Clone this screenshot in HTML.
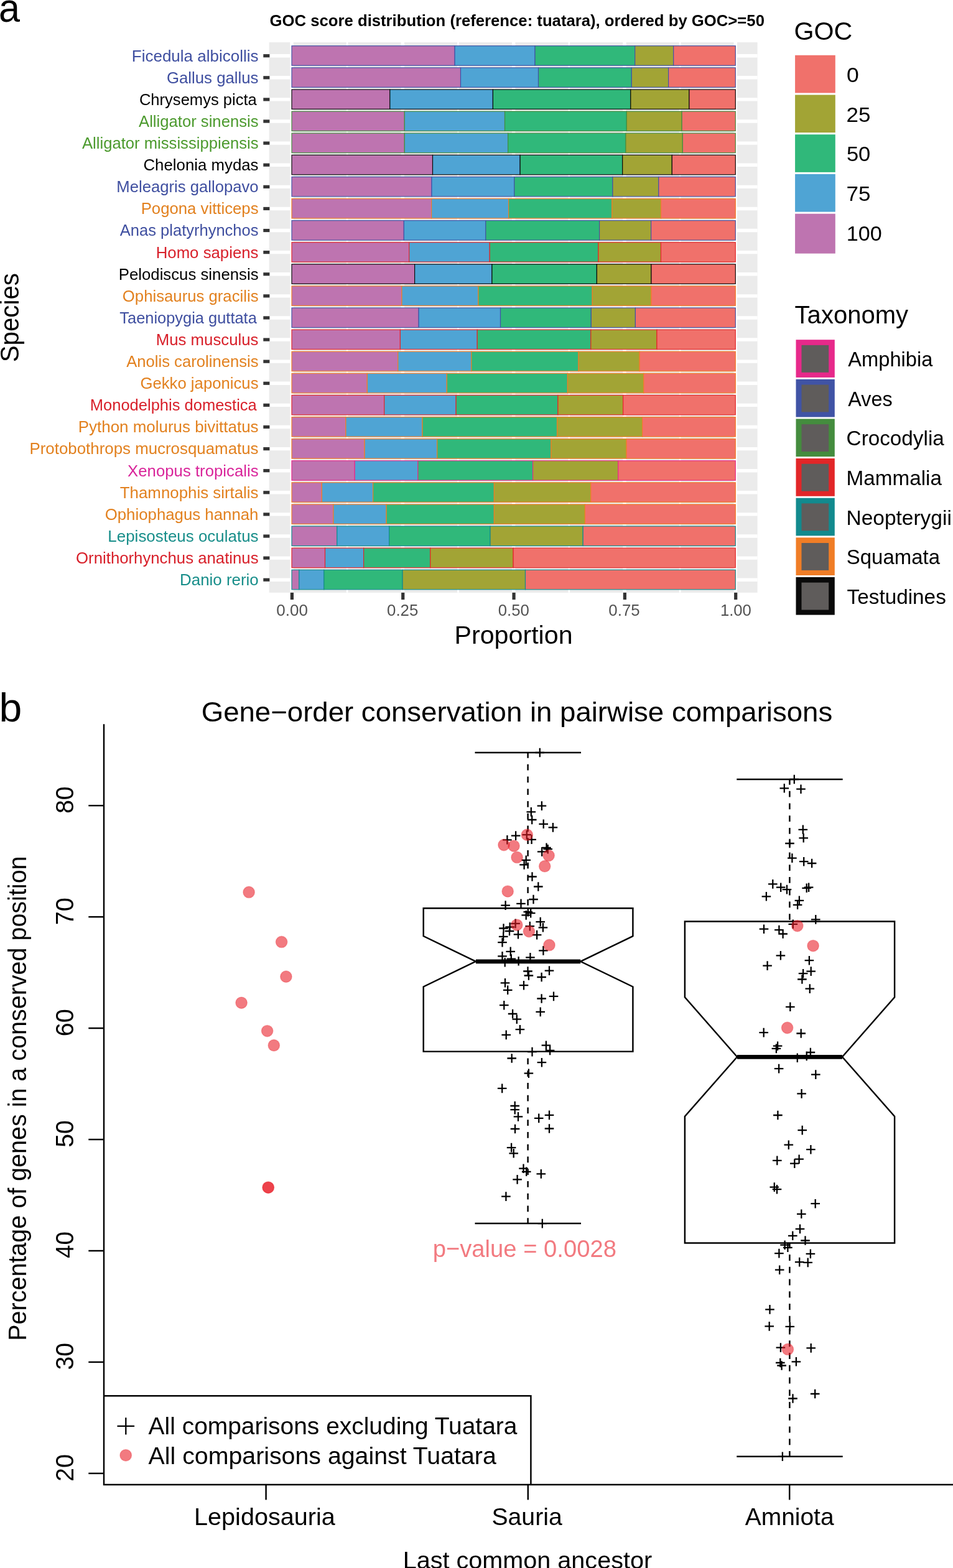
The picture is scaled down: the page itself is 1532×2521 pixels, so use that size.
<!DOCTYPE html>
<html lang="en">
<head>
<meta charset="utf-8">
<title>GOC score distribution and gene-order conservation</title>
<style>
html,body{margin:0;padding:0;background:#fff;}
body{width:1532px;height:2521px;overflow:hidden;}
svg{display:block;}
text{white-space:pre;}
</style>
</head>
<body>
<svg width="1532" height="2521" viewBox="0 0 1532 2521" font-family='"Liberation Sans", sans-serif'>
<rect width="1532" height="2521" fill="#fff"/>
<g id="panel-a">
<text x="-1.9" y="35.4" font-size="65" fill="#000" textLength="34" lengthAdjust="spacingAndGlyphs">a</text>
<text x="433.55" y="42.1" font-size="25" font-weight="bold" fill="#000" textLength="795.41" lengthAdjust="spacingAndGlyphs">GOC score distribution (reference: tuatara), ordered by GOC&gt;=50</text>
<rect x="432.6" y="68" width="785" height="884.8" fill="#EBEBEB"/>
<g stroke="#fff" fill="none">
<line x1="558.16" x2="558.16" y1="68" y2="952.8" stroke-width="2.7"/>
<line x1="736.49" x2="736.49" y1="68" y2="952.8" stroke-width="2.7"/>
<line x1="914.81" x2="914.81" y1="68" y2="952.8" stroke-width="2.7"/>
<line x1="1093.14" x2="1093.14" y1="68" y2="952.8" stroke-width="2.7"/>
<line x1="469" x2="469" y1="68" y2="952.8" stroke-width="5.4"/>
<line x1="647.33" x2="647.33" y1="68" y2="952.8" stroke-width="5.4"/>
<line x1="825.65" x2="825.65" y1="68" y2="952.8" stroke-width="5.4"/>
<line x1="1003.97" x2="1003.97" y1="68" y2="952.8" stroke-width="5.4"/>
<line x1="1182.3" x2="1182.3" y1="68" y2="952.8" stroke-width="5.4"/>
<line x1="432.6" x2="1217.6" y1="89.7" y2="89.7" stroke-width="5.4"/>
<line x1="432.6" x2="1217.6" y1="124.8" y2="124.8" stroke-width="5.4"/>
<line x1="432.6" x2="1217.6" y1="159.91" y2="159.91" stroke-width="5.4"/>
<line x1="432.6" x2="1217.6" y1="195.01" y2="195.01" stroke-width="5.4"/>
<line x1="432.6" x2="1217.6" y1="230.12" y2="230.12" stroke-width="5.4"/>
<line x1="432.6" x2="1217.6" y1="265.22" y2="265.22" stroke-width="5.4"/>
<line x1="432.6" x2="1217.6" y1="300.33" y2="300.33" stroke-width="5.4"/>
<line x1="432.6" x2="1217.6" y1="335.44" y2="335.44" stroke-width="5.4"/>
<line x1="432.6" x2="1217.6" y1="370.54" y2="370.54" stroke-width="5.4"/>
<line x1="432.6" x2="1217.6" y1="405.64" y2="405.64" stroke-width="5.4"/>
<line x1="432.6" x2="1217.6" y1="440.75" y2="440.75" stroke-width="5.4"/>
<line x1="432.6" x2="1217.6" y1="475.85" y2="475.85" stroke-width="5.4"/>
<line x1="432.6" x2="1217.6" y1="510.96" y2="510.96" stroke-width="5.4"/>
<line x1="432.6" x2="1217.6" y1="546.07" y2="546.07" stroke-width="5.4"/>
<line x1="432.6" x2="1217.6" y1="581.17" y2="581.17" stroke-width="5.4"/>
<line x1="432.6" x2="1217.6" y1="616.27" y2="616.27" stroke-width="5.4"/>
<line x1="432.6" x2="1217.6" y1="651.38" y2="651.38" stroke-width="5.4"/>
<line x1="432.6" x2="1217.6" y1="686.49" y2="686.49" stroke-width="5.4"/>
<line x1="432.6" x2="1217.6" y1="721.59" y2="721.59" stroke-width="5.4"/>
<line x1="432.6" x2="1217.6" y1="756.69" y2="756.69" stroke-width="5.4"/>
<line x1="432.6" x2="1217.6" y1="791.8" y2="791.8" stroke-width="5.4"/>
<line x1="432.6" x2="1217.6" y1="826.9" y2="826.9" stroke-width="5.4"/>
<line x1="432.6" x2="1217.6" y1="862.01" y2="862.01" stroke-width="5.4"/>
<line x1="432.6" x2="1217.6" y1="897.12" y2="897.12" stroke-width="5.4"/>
<line x1="432.6" x2="1217.6" y1="932.22" y2="932.22" stroke-width="5.4"/>
</g>
<g stroke="#4053A5" stroke-width="1.15">
<rect x="469" y="73.72" width="262.1" height="31.55" fill="#BE74B0"/>
<rect x="731.1" y="73.72" width="128.9" height="31.55" fill="#4FA4D4"/>
<rect x="860" y="73.72" width="160.7" height="31.55" fill="#30B87A"/>
<rect x="1020.7" y="73.72" width="62" height="31.55" fill="#A2A435"/>
<rect x="1082.7" y="73.72" width="99.6" height="31.55" fill="#F0716B"/>
</g>
<g stroke="#4053A5" stroke-width="1.15">
<rect x="469" y="108.83" width="271.5" height="31.55" fill="#BE74B0"/>
<rect x="740.5" y="108.83" width="125" height="31.55" fill="#4FA4D4"/>
<rect x="865.5" y="108.83" width="149.8" height="31.55" fill="#30B87A"/>
<rect x="1015.3" y="108.83" width="59.3" height="31.55" fill="#A2A435"/>
<rect x="1074.6" y="108.83" width="107.7" height="31.55" fill="#F0716B"/>
</g>
<g stroke="#0A0A0A" stroke-width="1.15">
<rect x="469" y="143.93" width="157.8" height="31.55" fill="#BE74B0"/>
<rect x="626.8" y="143.93" width="165.6" height="31.55" fill="#4FA4D4"/>
<rect x="792.4" y="143.93" width="221.4" height="31.55" fill="#30B87A"/>
<rect x="1013.8" y="143.93" width="94.1" height="31.55" fill="#A2A435"/>
<rect x="1107.9" y="143.93" width="74.4" height="31.55" fill="#F0716B"/>
</g>
<g stroke="#448C3E" stroke-width="1.15">
<rect x="469" y="179.04" width="181.3" height="31.55" fill="#BE74B0"/>
<rect x="650.3" y="179.04" width="161.2" height="31.55" fill="#4FA4D4"/>
<rect x="811.5" y="179.04" width="195.8" height="31.55" fill="#30B87A"/>
<rect x="1007.3" y="179.04" width="88.8" height="31.55" fill="#A2A435"/>
<rect x="1096.1" y="179.04" width="86.2" height="31.55" fill="#F0716B"/>
</g>
<g stroke="#448C3E" stroke-width="1.15">
<rect x="469" y="214.14" width="181.3" height="31.55" fill="#BE74B0"/>
<rect x="650.3" y="214.14" width="166.3" height="31.55" fill="#4FA4D4"/>
<rect x="816.6" y="214.14" width="189.3" height="31.55" fill="#30B87A"/>
<rect x="1005.9" y="214.14" width="91.4" height="31.55" fill="#A2A435"/>
<rect x="1097.3" y="214.14" width="85" height="31.55" fill="#F0716B"/>
</g>
<g stroke="#0A0A0A" stroke-width="1.15">
<rect x="469" y="249.25" width="226.5" height="31.55" fill="#BE74B0"/>
<rect x="695.5" y="249.25" width="140.6" height="31.55" fill="#4FA4D4"/>
<rect x="836.1" y="249.25" width="164.6" height="31.55" fill="#30B87A"/>
<rect x="1000.7" y="249.25" width="79.6" height="31.55" fill="#A2A435"/>
<rect x="1080.3" y="249.25" width="102" height="31.55" fill="#F0716B"/>
</g>
<g stroke="#4053A5" stroke-width="1.15">
<rect x="469" y="284.36" width="225" height="31.55" fill="#BE74B0"/>
<rect x="694" y="284.36" width="132.8" height="31.55" fill="#4FA4D4"/>
<rect x="826.8" y="284.36" width="158.1" height="31.55" fill="#30B87A"/>
<rect x="984.9" y="284.36" width="73.9" height="31.55" fill="#A2A435"/>
<rect x="1058.8" y="284.36" width="123.5" height="31.55" fill="#F0716B"/>
</g>
<g stroke="#F07D26" stroke-width="1.15">
<rect x="469" y="319.46" width="224.6" height="31.55" fill="#BE74B0"/>
<rect x="693.6" y="319.46" width="124" height="31.55" fill="#4FA4D4"/>
<rect x="817.6" y="319.46" width="166.3" height="31.55" fill="#30B87A"/>
<rect x="983.9" y="319.46" width="78.6" height="31.55" fill="#A2A435"/>
<rect x="1062.5" y="319.46" width="119.8" height="31.55" fill="#F0716B"/>
</g>
<g stroke="#4053A5" stroke-width="1.15">
<rect x="469" y="354.56" width="180.3" height="31.55" fill="#BE74B0"/>
<rect x="649.3" y="354.56" width="131.5" height="31.55" fill="#4FA4D4"/>
<rect x="780.8" y="354.56" width="182.8" height="31.55" fill="#30B87A"/>
<rect x="963.6" y="354.56" width="83" height="31.55" fill="#A2A435"/>
<rect x="1046.6" y="354.56" width="135.7" height="31.55" fill="#F0716B"/>
</g>
<g stroke="#E22628" stroke-width="1.15">
<rect x="469" y="389.67" width="188.7" height="31.55" fill="#BE74B0"/>
<rect x="657.7" y="389.67" width="129.5" height="31.55" fill="#4FA4D4"/>
<rect x="787.2" y="389.67" width="174.7" height="31.55" fill="#30B87A"/>
<rect x="961.9" y="389.67" width="100.6" height="31.55" fill="#A2A435"/>
<rect x="1062.5" y="389.67" width="119.8" height="31.55" fill="#F0716B"/>
</g>
<g stroke="#0A0A0A" stroke-width="1.15">
<rect x="469" y="424.77" width="197.6" height="31.55" fill="#BE74B0"/>
<rect x="666.6" y="424.77" width="124.3" height="31.55" fill="#4FA4D4"/>
<rect x="790.9" y="424.77" width="168.5" height="31.55" fill="#30B87A"/>
<rect x="959.4" y="424.77" width="87.5" height="31.55" fill="#A2A435"/>
<rect x="1046.9" y="424.77" width="135.4" height="31.55" fill="#F0716B"/>
</g>
<g stroke="#F07D26" stroke-width="1.15">
<rect x="469" y="459.88" width="176.9" height="31.55" fill="#BE74B0"/>
<rect x="645.9" y="459.88" width="123" height="31.55" fill="#4FA4D4"/>
<rect x="768.9" y="459.88" width="183.3" height="31.55" fill="#30B87A"/>
<rect x="952.2" y="459.88" width="94.7" height="31.55" fill="#A2A435"/>
<rect x="1046.9" y="459.88" width="135.4" height="31.55" fill="#F0716B"/>
</g>
<g stroke="#4053A5" stroke-width="1.15">
<rect x="469" y="494.99" width="204.1" height="31.55" fill="#BE74B0"/>
<rect x="673.1" y="494.99" width="131.4" height="31.55" fill="#4FA4D4"/>
<rect x="804.5" y="494.99" width="145.8" height="31.55" fill="#30B87A"/>
<rect x="950.3" y="494.99" width="71.1" height="31.55" fill="#A2A435"/>
<rect x="1021.4" y="494.99" width="160.9" height="31.55" fill="#F0716B"/>
</g>
<g stroke="#E22628" stroke-width="1.15">
<rect x="469" y="530.09" width="174.4" height="31.55" fill="#BE74B0"/>
<rect x="643.4" y="530.09" width="123.8" height="31.55" fill="#4FA4D4"/>
<rect x="767.2" y="530.09" width="182.6" height="31.55" fill="#30B87A"/>
<rect x="949.8" y="530.09" width="106.2" height="31.55" fill="#A2A435"/>
<rect x="1056" y="530.09" width="126.3" height="31.55" fill="#F0716B"/>
</g>
<g stroke="#F07D26" stroke-width="1.15">
<rect x="469" y="565.2" width="170.7" height="31.55" fill="#BE74B0"/>
<rect x="639.7" y="565.2" width="118.1" height="31.55" fill="#4FA4D4"/>
<rect x="757.8" y="565.2" width="172.2" height="31.55" fill="#30B87A"/>
<rect x="930" y="565.2" width="98.1" height="31.55" fill="#A2A435"/>
<rect x="1028.1" y="565.2" width="154.2" height="31.55" fill="#F0716B"/>
</g>
<g stroke="#F07D26" stroke-width="1.15">
<rect x="469" y="600.3" width="121.3" height="31.55" fill="#BE74B0"/>
<rect x="590.3" y="600.3" width="128" height="31.55" fill="#4FA4D4"/>
<rect x="718.3" y="600.3" width="194.1" height="31.55" fill="#30B87A"/>
<rect x="912.4" y="600.3" width="122.4" height="31.55" fill="#A2A435"/>
<rect x="1034.8" y="600.3" width="147.5" height="31.55" fill="#F0716B"/>
</g>
<g stroke="#E22628" stroke-width="1.15">
<rect x="469" y="635.4" width="148.7" height="31.55" fill="#BE74B0"/>
<rect x="617.7" y="635.4" width="115.4" height="31.55" fill="#4FA4D4"/>
<rect x="733.1" y="635.4" width="163.8" height="31.55" fill="#30B87A"/>
<rect x="896.9" y="635.4" width="104.8" height="31.55" fill="#A2A435"/>
<rect x="1001.7" y="635.4" width="180.6" height="31.55" fill="#F0716B"/>
</g>
<g stroke="#F07D26" stroke-width="1.15">
<rect x="469" y="670.51" width="86.9" height="31.55" fill="#BE74B0"/>
<rect x="555.9" y="670.51" width="123.1" height="31.55" fill="#4FA4D4"/>
<rect x="679" y="670.51" width="216.6" height="31.55" fill="#30B87A"/>
<rect x="895.6" y="670.51" width="137" height="31.55" fill="#A2A435"/>
<rect x="1032.6" y="670.51" width="149.7" height="31.55" fill="#F0716B"/>
</g>
<g stroke="#F07D26" stroke-width="1.15">
<rect x="469" y="705.62" width="117.1" height="31.55" fill="#BE74B0"/>
<rect x="586.1" y="705.62" width="116.6" height="31.55" fill="#4FA4D4"/>
<rect x="702.7" y="705.62" width="183.3" height="31.55" fill="#30B87A"/>
<rect x="886" y="705.62" width="121.1" height="31.55" fill="#A2A435"/>
<rect x="1007.1" y="705.62" width="175.2" height="31.55" fill="#F0716B"/>
</g>
<g stroke="#E7298A" stroke-width="1.15">
<rect x="469" y="740.72" width="101.2" height="31.55" fill="#BE74B0"/>
<rect x="570.2" y="740.72" width="101.6" height="31.55" fill="#4FA4D4"/>
<rect x="671.8" y="740.72" width="184.8" height="31.55" fill="#30B87A"/>
<rect x="856.6" y="740.72" width="137.2" height="31.55" fill="#A2A435"/>
<rect x="993.8" y="740.72" width="188.5" height="31.55" fill="#F0716B"/>
</g>
<g stroke="#F07D26" stroke-width="1.15">
<rect x="469" y="775.82" width="48.3" height="31.55" fill="#BE74B0"/>
<rect x="517.3" y="775.82" width="82.3" height="31.55" fill="#4FA4D4"/>
<rect x="599.6" y="775.82" width="194.8" height="31.55" fill="#30B87A"/>
<rect x="794.4" y="775.82" width="155.4" height="31.55" fill="#A2A435"/>
<rect x="949.8" y="775.82" width="232.5" height="31.55" fill="#F0716B"/>
</g>
<g stroke="#F07D26" stroke-width="1.15">
<rect x="469" y="810.93" width="66.9" height="31.55" fill="#BE74B0"/>
<rect x="535.9" y="810.93" width="85.2" height="31.55" fill="#4FA4D4"/>
<rect x="621.1" y="810.93" width="173.3" height="31.55" fill="#30B87A"/>
<rect x="794.4" y="810.93" width="146" height="31.55" fill="#A2A435"/>
<rect x="940.4" y="810.93" width="241.9" height="31.55" fill="#F0716B"/>
</g>
<g stroke="#128A8E" stroke-width="1.15">
<rect x="469" y="846.03" width="72.8" height="31.55" fill="#BE74B0"/>
<rect x="541.8" y="846.03" width="83.8" height="31.55" fill="#4FA4D4"/>
<rect x="625.6" y="846.03" width="162.4" height="31.55" fill="#30B87A"/>
<rect x="788" y="846.03" width="149.2" height="31.55" fill="#A2A435"/>
<rect x="937.2" y="846.03" width="245.1" height="31.55" fill="#F0716B"/>
</g>
<g stroke="#E22628" stroke-width="1.15">
<rect x="469" y="881.14" width="53.5" height="31.55" fill="#BE74B0"/>
<rect x="522.5" y="881.14" width="62.1" height="31.55" fill="#4FA4D4"/>
<rect x="584.6" y="881.14" width="107.2" height="31.55" fill="#30B87A"/>
<rect x="691.8" y="881.14" width="133.3" height="31.55" fill="#A2A435"/>
<rect x="825.1" y="881.14" width="357.2" height="31.55" fill="#F0716B"/>
</g>
<g stroke="#128A8E" stroke-width="1.15">
<rect x="469" y="916.25" width="11.8" height="31.55" fill="#BE74B0"/>
<rect x="480.8" y="916.25" width="40" height="31.55" fill="#4FA4D4"/>
<rect x="520.8" y="916.25" width="126.3" height="31.55" fill="#30B87A"/>
<rect x="647.1" y="916.25" width="197.4" height="31.55" fill="#A2A435"/>
<rect x="844.5" y="916.25" width="337.8" height="31.55" fill="#F0716B"/>
</g>
<g stroke="#333" stroke-width="5.2">
<line x1="423.3" x2="433.4" y1="89.7" y2="89.7"/>
<line x1="423.3" x2="433.4" y1="124.8" y2="124.8"/>
<line x1="423.3" x2="433.4" y1="159.91" y2="159.91"/>
<line x1="423.3" x2="433.4" y1="195.01" y2="195.01"/>
<line x1="423.3" x2="433.4" y1="230.12" y2="230.12"/>
<line x1="423.3" x2="433.4" y1="265.22" y2="265.22"/>
<line x1="423.3" x2="433.4" y1="300.33" y2="300.33"/>
<line x1="423.3" x2="433.4" y1="335.44" y2="335.44"/>
<line x1="423.3" x2="433.4" y1="370.54" y2="370.54"/>
<line x1="423.3" x2="433.4" y1="405.64" y2="405.64"/>
<line x1="423.3" x2="433.4" y1="440.75" y2="440.75"/>
<line x1="423.3" x2="433.4" y1="475.85" y2="475.85"/>
<line x1="423.3" x2="433.4" y1="510.96" y2="510.96"/>
<line x1="423.3" x2="433.4" y1="546.07" y2="546.07"/>
<line x1="423.3" x2="433.4" y1="581.17" y2="581.17"/>
<line x1="423.3" x2="433.4" y1="616.27" y2="616.27"/>
<line x1="423.3" x2="433.4" y1="651.38" y2="651.38"/>
<line x1="423.3" x2="433.4" y1="686.49" y2="686.49"/>
<line x1="423.3" x2="433.4" y1="721.59" y2="721.59"/>
<line x1="423.3" x2="433.4" y1="756.69" y2="756.69"/>
<line x1="423.3" x2="433.4" y1="791.8" y2="791.8"/>
<line x1="423.3" x2="433.4" y1="826.9" y2="826.9"/>
<line x1="423.3" x2="433.4" y1="862.01" y2="862.01"/>
<line x1="423.3" x2="433.4" y1="897.12" y2="897.12"/>
<line x1="423.3" x2="433.4" y1="932.22" y2="932.22"/>
<line x1="469.4" x2="469.4" y1="952.8" y2="964.1"/>
<line x1="647.73" x2="647.73" y1="952.8" y2="964.1"/>
<line x1="826.05" x2="826.05" y1="952.8" y2="964.1"/>
<line x1="1004.37" x2="1004.37" y1="952.8" y2="964.1"/>
<line x1="1182.7" x2="1182.7" y1="952.8" y2="964.1"/>
</g>
<text x="211.77" y="98.6" font-size="25.6" fill="#3F4FA0" textLength="203.77" lengthAdjust="spacingAndGlyphs">Ficedula albicollis</text>
<text x="267.9" y="133.7" font-size="25.6" fill="#3F4FA0" textLength="147.63" lengthAdjust="spacingAndGlyphs">Gallus gallus</text>
<text x="223.9" y="168.81" font-size="25.6" fill="#000000" textLength="188.9" lengthAdjust="spacingAndGlyphs">Chrysemys picta</text>
<text x="223.05" y="203.91" font-size="25.6" fill="#4C9A2E" textLength="192.48" lengthAdjust="spacingAndGlyphs">Alligator sinensis</text>
<text x="131.95" y="239.02" font-size="25.6" fill="#4C9A2E" textLength="283.58" lengthAdjust="spacingAndGlyphs">Alligator mississippiensis</text>
<text x="230.49" y="274.12" font-size="25.6" fill="#000000" textLength="185.04" lengthAdjust="spacingAndGlyphs">Chelonia mydas</text>
<text x="187.29" y="309.23" font-size="25.6" fill="#3F4FA0" textLength="228.38" lengthAdjust="spacingAndGlyphs">Meleagris gallopavo</text>
<text x="226.69" y="344.34" font-size="25.6" fill="#E2811F" textLength="188.84" lengthAdjust="spacingAndGlyphs">Pogona vitticeps</text>
<text x="192.85" y="379.44" font-size="25.6" fill="#3F4FA0" textLength="222.67" lengthAdjust="spacingAndGlyphs">Anas platyrhynchos</text>
<text x="250.68" y="414.55" font-size="25.6" fill="#D8202A" textLength="164.85" lengthAdjust="spacingAndGlyphs">Homo sapiens</text>
<text x="190.79" y="449.65" font-size="25.6" fill="#000000" textLength="224.74" lengthAdjust="spacingAndGlyphs">Pelodiscus sinensis</text>
<text x="196.88" y="484.75" font-size="25.6" fill="#E2811F" textLength="218.65" lengthAdjust="spacingAndGlyphs">Ophisaurus gracilis</text>
<text x="192.33" y="519.86" font-size="25.6" fill="#3F4FA0" textLength="220.47" lengthAdjust="spacingAndGlyphs">Taeniopygia guttata</text>
<text x="250.68" y="554.97" font-size="25.6" fill="#D8202A" textLength="164.85" lengthAdjust="spacingAndGlyphs">Mus musculus</text>
<text x="203.15" y="590.07" font-size="25.6" fill="#E2811F" textLength="212.38" lengthAdjust="spacingAndGlyphs">Anolis carolinensis</text>
<text x="225.41" y="625.17" font-size="25.6" fill="#E2811F" textLength="190.12" lengthAdjust="spacingAndGlyphs">Gekko japonicus</text>
<text x="144.81" y="660.28" font-size="25.6" fill="#D8202A" textLength="267.99" lengthAdjust="spacingAndGlyphs">Monodelphis domestica</text>
<text x="125.77" y="695.38" font-size="25.6" fill="#E2811F" textLength="289.76" lengthAdjust="spacingAndGlyphs">Python molurus bivittatus</text>
<text x="47.48" y="730.49" font-size="25.6" fill="#E2811F" textLength="368.06" lengthAdjust="spacingAndGlyphs">Protobothrops mucrosquamatus</text>
<text x="205.12" y="765.59" font-size="25.6" fill="#D9259A" textLength="210.41" lengthAdjust="spacingAndGlyphs">Xenopus tropicalis</text>
<text x="192.82" y="800.7" font-size="25.6" fill="#E2811F" textLength="222.71" lengthAdjust="spacingAndGlyphs">Thamnophis sirtalis</text>
<text x="168.68" y="835.8" font-size="25.6" fill="#E2811F" textLength="246.8" lengthAdjust="spacingAndGlyphs">Ophiophagus hannah</text>
<text x="173.37" y="870.91" font-size="25.6" fill="#188E8A" textLength="242.16" lengthAdjust="spacingAndGlyphs">Lepisosteus oculatus</text>
<text x="122.08" y="906.01" font-size="25.6" fill="#D8202A" textLength="293.45" lengthAdjust="spacingAndGlyphs">Ornithorhynchus anatinus</text>
<text x="289.08" y="941.12" font-size="25.6" fill="#188E8A" textLength="126.61" lengthAdjust="spacingAndGlyphs">Danio rerio</text>
<text x="444.38" y="989.7" font-size="25.6" fill="#525252" textLength="50.63" lengthAdjust="spacingAndGlyphs">0.00</text>
<text x="622.09" y="989.7" font-size="25.6" fill="#525252" textLength="50.29" lengthAdjust="spacingAndGlyphs">0.25</text>
<text x="800.79" y="989.7" font-size="25.6" fill="#525252" textLength="50.11" lengthAdjust="spacingAndGlyphs">0.50</text>
<text x="978.39" y="989.7" font-size="25.6" fill="#525252" textLength="50.29" lengthAdjust="spacingAndGlyphs">0.75</text>
<text x="1157.94" y="989.7" font-size="25.6" fill="#525252" textLength="49.96" lengthAdjust="spacingAndGlyphs">1.00</text>
<text x="730.52" y="1034.6" font-size="40.5" fill="#000" textLength="190.05" lengthAdjust="spacingAndGlyphs">Proportion</text>
<g transform="translate(29.9 0) rotate(-90)"><text x="-582.23" y="0" font-size="42" fill="#000" textLength="143.08" lengthAdjust="spacingAndGlyphs">Species</text></g>
<text x="1276.43" y="64.1" font-size="40.5" fill="#000" textLength="93.84" lengthAdjust="spacingAndGlyphs">GOC</text>
<rect x="1278.1" y="88.8" width="64.7" height="60.62" fill="#F0716B"/>
<text x="1360.91" y="131.86" font-size="32.6" fill="#000" textLength="19.78" lengthAdjust="spacingAndGlyphs">0</text>
<rect x="1278.1" y="152.52" width="64.7" height="60.62" fill="#A2A435"/>
<text x="1360.54" y="195.58" font-size="32.6" fill="#000" textLength="38.93" lengthAdjust="spacingAndGlyphs">25</text>
<rect x="1278.1" y="216.24" width="64.7" height="60.62" fill="#30B87A"/>
<text x="1360.92" y="259.3" font-size="32.6" fill="#000" textLength="38.43" lengthAdjust="spacingAndGlyphs">50</text>
<rect x="1278.1" y="279.96" width="64.7" height="60.62" fill="#4FA4D4"/>
<text x="1360.5" y="323.02" font-size="32.6" fill="#000" textLength="38.97" lengthAdjust="spacingAndGlyphs">75</text>
<rect x="1278.1" y="343.68" width="64.7" height="63.92" fill="#BE74B0"/>
<text x="1360.7" y="386.74" font-size="32.6" fill="#000" textLength="57.04" lengthAdjust="spacingAndGlyphs">100</text>
<text x="1277.6" y="520.1" font-size="40.5" fill="#000" textLength="182.48" lengthAdjust="spacingAndGlyphs">Taxonomy</text>
<rect x="1279.5" y="546.2" width="62.3" height="60.7" fill="#E7298A"/>
<rect x="1288.5" y="554.9" width="43.7" height="43.9" fill="#5F5C5B"/>
<text x="1363.24" y="589.2" font-size="32.6" fill="#000" textLength="136.26" lengthAdjust="spacingAndGlyphs">Amphibia</text>
<rect x="1279.5" y="609.82" width="62.3" height="60.7" fill="#4053A5"/>
<rect x="1288.5" y="618.52" width="43.7" height="43.9" fill="#5F5C5B"/>
<text x="1363.24" y="652.82" font-size="32.6" fill="#000" textLength="71.43" lengthAdjust="spacingAndGlyphs">Aves</text>
<rect x="1279.5" y="673.44" width="62.3" height="60.7" fill="#448C3E"/>
<rect x="1288.5" y="682.14" width="43.7" height="43.9" fill="#5F5C5B"/>
<text x="1360.61" y="716.44" font-size="32.6" fill="#000" textLength="157.19" lengthAdjust="spacingAndGlyphs">Crocodylia</text>
<rect x="1279.5" y="737.06" width="62.3" height="60.7" fill="#E22628"/>
<rect x="1288.5" y="745.76" width="43.7" height="43.9" fill="#5F5C5B"/>
<text x="1360.57" y="780.06" font-size="32.6" fill="#000" textLength="153.43" lengthAdjust="spacingAndGlyphs">Mammalia</text>
<rect x="1279.5" y="800.68" width="62.3" height="60.7" fill="#128A8E"/>
<rect x="1288.5" y="809.38" width="43.7" height="43.9" fill="#5F5C5B"/>
<text x="1360.55" y="843.68" font-size="32.6" fill="#000" textLength="169.3" lengthAdjust="spacingAndGlyphs">Neopterygii</text>
<rect x="1279.5" y="864.3" width="62.3" height="60.7" fill="#F07D26"/>
<rect x="1288.5" y="873" width="43.7" height="43.9" fill="#5F5C5B"/>
<text x="1360.8" y="907.3" font-size="32.6" fill="#000" textLength="150.2" lengthAdjust="spacingAndGlyphs">Squamata</text>
<rect x="1279.5" y="927.92" width="62.3" height="60.7" fill="#0A0A0A"/>
<rect x="1288.5" y="936.62" width="43.7" height="43.9" fill="#5F5C5B"/>
<text x="1361.55" y="970.92" font-size="32.6" fill="#000" textLength="159.25" lengthAdjust="spacingAndGlyphs">Testudines</text>
</g>
<g id="panel-b">
<text x="-1.56" y="1160.1" font-size="65.5" fill="#000" textLength="36.73" lengthAdjust="spacingAndGlyphs">b</text>
<text x="323.71" y="1159.5" font-size="44.6" fill="#000" textLength="1014.54" lengthAdjust="spacingAndGlyphs">Gene−order conservation in pairwise comparisons</text>
<g stroke="#000" stroke-width="2.45" fill="none" stroke-linecap="butt">
<path d="M167 1164.3V2387H1532"/>
<line x1="142.3" x2="167" y1="2368.9" y2="2368.9"/>
<line x1="142.3" x2="167" y1="2189.95" y2="2189.95"/>
<line x1="142.3" x2="167" y1="2011" y2="2011"/>
<line x1="142.3" x2="167" y1="1832.05" y2="1832.05"/>
<line x1="142.3" x2="167" y1="1653.1" y2="1653.1"/>
<line x1="142.3" x2="167" y1="1474.15" y2="1474.15"/>
<line x1="142.3" x2="167" y1="1295.2" y2="1295.2"/>
<line x1="427.6" x2="427.6" y1="2387" y2="2411.4"/>
<line x1="848.8" x2="848.8" y1="2387" y2="2411.4"/>
<line x1="1269.2" x2="1269.2" y1="2387" y2="2411.4"/>
<path d="M167 2244.2H853.4V2387"/>
</g>
<g transform="translate(118.4 0) rotate(-90)"><text x="-2381.99" y="0" font-size="39.8" fill="#000" textLength="44.04" lengthAdjust="spacingAndGlyphs">20</text></g>
<g transform="translate(118.4 0) rotate(-90)"><text x="-2202.54" y="0" font-size="39.8" fill="#000" textLength="43.52" lengthAdjust="spacingAndGlyphs">30</text></g>
<g transform="translate(118.4 0) rotate(-90)"><text x="-2022.98" y="0" font-size="39.8" fill="#000" textLength="42.89" lengthAdjust="spacingAndGlyphs">40</text></g>
<g transform="translate(118.4 0) rotate(-90)"><text x="-1844.72" y="0" font-size="39.8" fill="#000" textLength="43.6" lengthAdjust="spacingAndGlyphs">50</text></g>
<g transform="translate(118.4 0) rotate(-90)"><text x="-1666.21" y="0" font-size="39.8" fill="#000" textLength="44.06" lengthAdjust="spacingAndGlyphs">60</text></g>
<g transform="translate(118.4 0) rotate(-90)"><text x="-1487.28" y="0" font-size="39.8" fill="#000" textLength="44.08" lengthAdjust="spacingAndGlyphs">70</text></g>
<g transform="translate(118.4 0) rotate(-90)"><text x="-1308.01" y="0" font-size="39.8" fill="#000" textLength="43.75" lengthAdjust="spacingAndGlyphs">80</text></g>
<g transform="translate(41.8 0) rotate(-90)"><text x="-2155.74" y="0" font-size="40.8" fill="#000" textLength="779.3" lengthAdjust="spacingAndGlyphs">Percentage of genes in a conserved position</text></g>
<text x="312.05" y="2451.5" font-size="39.6" fill="#000" textLength="226.75" lengthAdjust="spacingAndGlyphs">Lepidosauria</text>
<text x="790.42" y="2451.5" font-size="39.6" fill="#000" textLength="113.28" lengthAdjust="spacingAndGlyphs">Sauria</text>
<text x="1197.72" y="2451.5" font-size="39.6" fill="#000" textLength="142.88" lengthAdjust="spacingAndGlyphs">Amniota</text>
<text x="647.75" y="2521.6" font-size="39.6" fill="#000" textLength="400.4" lengthAdjust="spacingAndGlyphs">Last common ancestor</text>
<g stroke="#000" stroke-width="2.45" fill="none" stroke-linejoin="miter">
<path d="M680.7 1460.2H1017.4V1505.1L933.2 1545.8L1017.4 1586.5V1690.6H680.7V1586.5L764.9 1545.8L680.7 1505.1Z"/>
<line x1="848.6" x2="848.6" y1="1208.9" y2="1460.2" stroke-dasharray="9.8 9.95"/>
<line x1="848.6" x2="848.6" y1="1968" y2="1690.6" stroke-dasharray="9.8 9.95"/>
<line x1="763.5" x2="934" y1="1210" y2="1210"/>
<line x1="763.5" x2="934" y1="1966.9" y2="1966.9"/>
<line x1="764.9" x2="933.2" y1="1545.8" y2="1545.8" stroke-width="6.8"/>
</g>
<g stroke="#000" stroke-width="2.45" fill="none" stroke-linejoin="miter">
<path d="M1100.9 1481.4H1438.1V1603.4L1354 1699.3L1438.1 1794.9V1998.4H1100.9V1794.9L1185 1699.3L1100.9 1603.4Z"/>
<line x1="1269.4" x2="1269.4" y1="1251.9" y2="1481.4" stroke-dasharray="9.8 9.95"/>
<line x1="1269.4" x2="1269.4" y1="2342.9" y2="1998.4" stroke-dasharray="9.8 9.95"/>
<line x1="1184.3" x2="1354.7" y1="1253" y2="1253"/>
<line x1="1184.3" x2="1354.7" y1="2341.8" y2="2341.8"/>
<line x1="1185" x2="1354" y1="1699.3" y2="1699.3" stroke-width="6.8"/>
</g>
<path d="M860.5 1210h14.6m-7.3 -7.3v14.6M863.6 1295.6h14.6m-7.3 -7.3v14.6M846.5 1305.4h14.6m-7.3 -7.3v14.6M847.9 1318h14.6m-7.3 -7.3v14.6M866.4 1324.8h14.6m-7.3 -7.3v14.6M881.6 1330.4h14.6m-7.3 -7.3v14.6M821.8 1343.6h14.6m-7.3 -7.3v14.6M839.5 1342.2h14.6m-7.3 -7.3v14.6M808.1 1350.3h14.6m-7.3 -7.3v14.6M847.3 1349.8h14.6m-7.3 -7.3v14.6M871.2 1362.9h14.6m-7.3 -7.3v14.6M873.4 1365.2h14.6m-7.3 -7.3v14.6M863.9 1369.4h14.6m-7.3 -7.3v14.6M838.4 1382.9h14.6m-7.3 -7.3v14.6M835.3 1390.4h14.6m-7.3 -7.3v14.6M848.2 1409.5h14.6m-7.3 -7.3v14.6M858 1425.5h14.6m-7.3 -7.3v14.6M850.2 1446h14.6m-7.3 -7.3v14.6M830.2 1452.9h14.6m-7.3 -7.3v14.6M805.3 1455.6h14.6m-7.3 -7.3v14.6M841.5 1466.2h14.6m-7.3 -7.3v14.6M845.9 1468.2h14.6m-7.3 -7.3v14.6M838.4 1471.4h14.6m-7.3 -7.3v14.6M861.4 1482.1h14.6m-7.3 -7.3v14.6M821.3 1484.9h14.6m-7.3 -7.3v14.6M844.5 1489.1h14.6m-7.3 -7.3v14.6M865.6 1491.3h14.6m-7.3 -7.3v14.6M802.2 1492.5h14.6m-7.3 -7.3v14.6M812.3 1490.5h14.6m-7.3 -7.3v14.6M811.7 1497h14.6m-7.3 -7.3v14.6M825.7 1502.3h14.6m-7.3 -7.3v14.6M855.8 1503.1h14.6m-7.3 -7.3v14.6M801.9 1505.9h14.6m-7.3 -7.3v14.6M800.2 1515.2h14.6m-7.3 -7.3v14.6M813.4 1529.8h14.6m-7.3 -7.3v14.6M866.1 1528.4h14.6m-7.3 -7.3v14.6M800.2 1537.4h14.6m-7.3 -7.3v14.6M845.1 1539.3h14.6m-7.3 -7.3v14.6M814.5 1541.6h14.6m-7.3 -7.3v14.6M826.3 1545.2h14.6m-7.3 -7.3v14.6M804.4 1547.2h14.6m-7.3 -7.3v14.6M841.2 1561.5h14.6m-7.3 -7.3v14.6M875.7 1560.6h14.6m-7.3 -7.3v14.6M842.6 1568.5h14.6m-7.3 -7.3v14.6M863.3 1571h14.6m-7.3 -7.3v14.6M804.7 1580.3h14.6m-7.3 -7.3v14.6M834.7 1584.2h14.6m-7.3 -7.3v14.6M808.9 1591.8h14.6m-7.3 -7.3v14.6M863.3 1605.5h14.6m-7.3 -7.3v14.6M882.7 1601.9h14.6m-7.3 -7.3v14.6M803 1616.2h14.6m-7.3 -7.3v14.6M861.4 1626.9h14.6m-7.3 -7.3v14.6M816.8 1630h14.6m-7.3 -7.3v14.6M823.5 1638.7h14.6m-7.3 -7.3v14.6M828.6 1655.2h14.6m-7.3 -7.3v14.6M806.4 1663.9h14.6m-7.3 -7.3v14.6M870.6 1680.7h14.6m-7.3 -7.3v14.6M876.8 1688.9h14.6m-7.3 -7.3v14.6M848.2 1691.1h14.6m-7.3 -7.3v14.6M815.4 1701.5h14.6m-7.3 -7.3v14.6M863.6 1708.2h14.6m-7.3 -7.3v14.6M842.6 1725.7h14.6m-7.3 -7.3v14.6M799.9 1749.9h14.6m-7.3 -7.3v14.6M820.4 1778h14.6m-7.3 -7.3v14.6M820.4 1784.2h14.6m-7.3 -7.3v14.6M825.7 1795.4h14.6m-7.3 -7.3v14.6M858.9 1797.9h14.6m-7.3 -7.3v14.6M875.7 1792.9h14.6m-7.3 -7.3v14.6M820.7 1815h14.6m-7.3 -7.3v14.6M875.7 1814.5h14.6m-7.3 -7.3v14.6M814.8 1845.1h14.6m-7.3 -7.3v14.6M818.4 1854.3h14.6m-7.3 -7.3v14.6M834.2 1878.7h14.6m-7.3 -7.3v14.6M838.9 1883.8h14.6m-7.3 -7.3v14.6M862.5 1887.4h14.6m-7.3 -7.3v14.6M824.3 1896.4h14.6m-7.3 -7.3v14.6M806.1 1923.6h14.6m-7.3 -7.3v14.6M864.5 1967.1h14.6m-7.3 -7.3v14.6M1269.5 1253h14.6m-7.3 -7.3v14.6M1253.5 1267.3h14.6m-7.3 -7.3v14.6M1280.2 1268.7h14.6m-7.3 -7.3v14.6M1283.5 1333.8h14.6m-7.3 -7.3v14.6M1284.4 1347.3h14.6m-7.3 -7.3v14.6M1262.2 1356h14.6m-7.3 -7.3v14.6M1266.1 1379.6h14.6m-7.3 -7.3v14.6M1284.9 1385.2h14.6m-7.3 -7.3v14.6M1297.8 1388h14.6m-7.3 -7.3v14.6M1235 1421.4h14.6m-7.3 -7.3v14.6M1247.9 1426.7h14.6m-7.3 -7.3v14.6M1257.7 1430.1h14.6m-7.3 -7.3v14.6M1289.4 1427.8h14.6m-7.3 -7.3v14.6M1292.8 1426.7h14.6m-7.3 -7.3v14.6M1224.6 1441.3h14.6m-7.3 -7.3v14.6M1277.6 1447.8h14.6m-7.3 -7.3v14.6M1274.8 1454.8h14.6m-7.3 -7.3v14.6M1304 1478.4h14.6m-7.3 -7.3v14.6M1267.5 1485.8h14.6m-7.3 -7.3v14.6M1220.7 1493.7h14.6m-7.3 -7.3v14.6M1245.1 1495.1h14.6m-7.3 -7.3v14.6M1251.3 1501.5h14.6m-7.3 -7.3v14.6M1247.6 1536.3h14.6m-7.3 -7.3v14.6M1293.6 1544.2h14.6m-7.3 -7.3v14.6M1226.3 1552.6h14.6m-7.3 -7.3v14.6M1296.4 1561.6h14.6m-7.3 -7.3v14.6M1283.8 1565.2h14.6m-7.3 -7.3v14.6M1282.1 1574.5h14.6m-7.3 -7.3v14.6M1294.5 1589.6h14.6m-7.3 -7.3v14.6M1263 1618.8h14.6m-7.3 -7.3v14.6M1220.4 1660.1h14.6m-7.3 -7.3v14.6M1280.4 1661.5h14.6m-7.3 -7.3v14.6M1242.8 1681.7h14.6m-7.3 -7.3v14.6M1240.6 1685.9h14.6m-7.3 -7.3v14.6M1295.6 1692h14.6m-7.3 -7.3v14.6M1289.4 1697.9h14.6m-7.3 -7.3v14.6M1274.5 1700.7h14.6m-7.3 -7.3v14.6M1244.8 1718.1h14.6m-7.3 -7.3v14.6M1304 1727.6h14.6m-7.3 -7.3v14.6M1281.3 1758.4h14.6m-7.3 -7.3v14.6M1243.1 1793h14.6m-7.3 -7.3v14.6M1282.4 1817.1h14.6m-7.3 -7.3v14.6M1260.5 1840.7h14.6m-7.3 -7.3v14.6M1296.1 1848.2h14.6m-7.3 -7.3v14.6M1242 1865.9h14.6m-7.3 -7.3v14.6M1277.3 1863.7h14.6m-7.3 -7.3v14.6M1270 1870.7h14.6m-7.3 -7.3v14.6M1237.5 1908.6h14.6m-7.3 -7.3v14.6M1241.7 1912.2h14.6m-7.3 -7.3v14.6M1303.4 1935.2h14.6m-7.3 -7.3v14.6M1281 1951.8h14.6m-7.3 -7.3v14.6M1278.7 1975.9h14.6m-7.3 -7.3v14.6M1267 1986.8h14.6m-7.3 -7.3v14.6M1287.2 1994.5h14.6m-7.3 -7.3v14.6M1254.3 2001.7h14.6m-7.3 -7.3v14.6M1259.1 2005.8h14.6m-7.3 -7.3v14.6M1245.1 2015.1h14.6m-7.3 -7.3v14.6M1295.6 2015.9h14.6m-7.3 -7.3v14.6M1277.9 2029.1h14.6m-7.3 -7.3v14.6M1291.4 2029.9h14.6m-7.3 -7.3v14.6M1245.9 2041.7h14.6m-7.3 -7.3v14.6M1230.2 2105.4h14.6m-7.3 -7.3v14.6M1229.4 2132.4h14.6m-7.3 -7.3v14.6M1262.5 2132.9h14.6m-7.3 -7.3v14.6M1247.6 2166.6h14.6m-7.3 -7.3v14.6M1296.4 2167.4h14.6m-7.3 -7.3v14.6M1272.6 2189.3h14.6m-7.3 -7.3v14.6M1247 2191h14.6m-7.3 -7.3v14.6M1249.3 2195.5h14.6m-7.3 -7.3v14.6M1302.9 2241h14.6m-7.3 -7.3v14.6M1267.2 2248.5h14.6m-7.3 -7.3v14.6M1250.6 2341.8h14.6m-7.3 -7.3v14.6M188.5 2292.8h27.6m-13.8 -13.6v27.2" stroke="#000" stroke-width="2.3" fill="none"/>
<g fill="#E81A24" fill-opacity="0.58" stroke="#E81A24" stroke-opacity="0.3" stroke-width="1.4">
<circle cx="400.1" cy="1434.4" r="9.2"/>
<circle cx="452.6" cy="1514.4" r="9.2"/>
<circle cx="459.9" cy="1570.2" r="9.2"/>
<circle cx="388.1" cy="1612.3" r="9.2"/>
<circle cx="429.6" cy="1657.6" r="9.2"/>
<circle cx="440.3" cy="1680.7" r="9.2"/>
<circle cx="431" cy="1909.1" r="9.2"/>
<circle cx="431.4" cy="1909.3" r="9.2"/>
<circle cx="847.3" cy="1342.2" r="9.2"/>
<circle cx="810" cy="1358.5" r="9.2"/>
<circle cx="826" cy="1360.1" r="9.2"/>
<circle cx="831.1" cy="1378.4" r="9.2"/>
<circle cx="882.1" cy="1375.6" r="9.2"/>
<circle cx="875.7" cy="1392.7" r="9.2"/>
<circle cx="816.2" cy="1433.1" r="9.2"/>
<circle cx="830.8" cy="1487.1" r="9.2"/>
<circle cx="850.4" cy="1497.5" r="9.2"/>
<circle cx="883" cy="1519.4" r="9.2"/>
<circle cx="1281.8" cy="1488.6" r="9.2"/>
<circle cx="1307.1" cy="1520.6" r="9.2"/>
<circle cx="1265.6" cy="1652.5" r="9.2"/>
<circle cx="1266.4" cy="2169.4" r="9.2"/>
<circle cx="202.2" cy="2339.7" r="9.3"/>
</g>
<text x="695.64" y="2020.7" font-size="39.4" fill="#E81A24" textLength="295.32" lengthAdjust="spacingAndGlyphs" fill-opacity="0.58">p−value = 0.0028</text>
<text x="238.62" y="2306.3" font-size="39.4" fill="#000" textLength="592.78" lengthAdjust="spacingAndGlyphs">All comparisons excluding Tuatara</text>
<text x="238.62" y="2353.8" font-size="39.4" fill="#000" textLength="559.18" lengthAdjust="spacingAndGlyphs">All comparisons against Tuatara</text>
</g>
</svg>
</body>
</html>
